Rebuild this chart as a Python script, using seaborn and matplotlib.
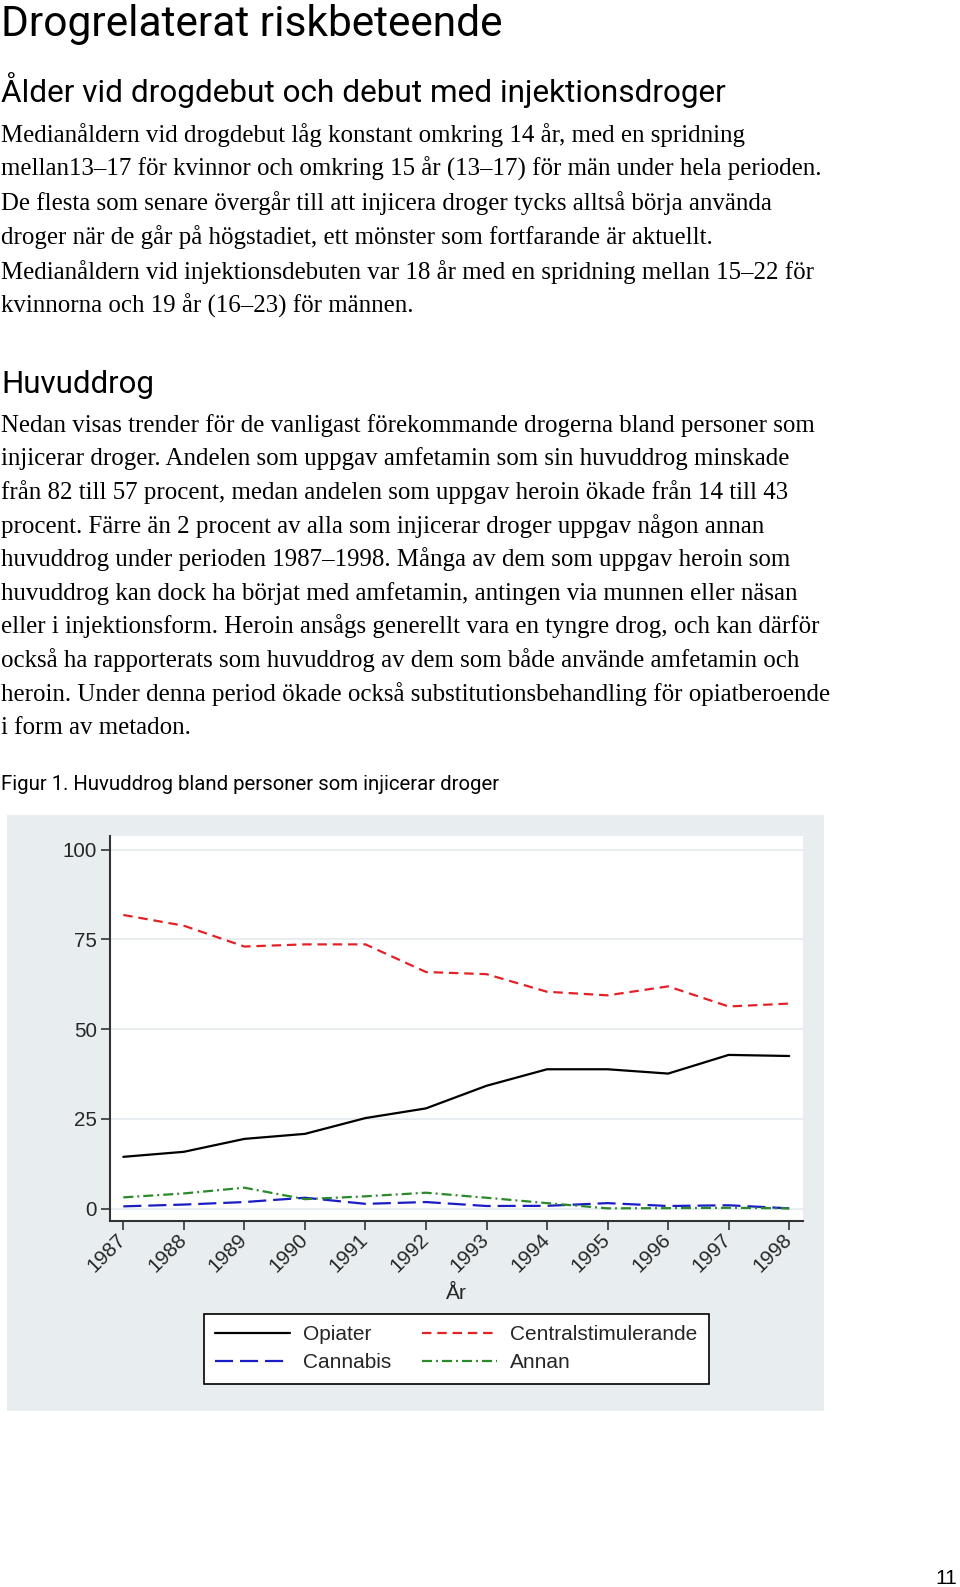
import matplotlib
matplotlib.use("Agg")
import numpy as np
import pandas as pd
import seaborn as sns
import matplotlib.pyplot as plt
from matplotlib.patches import Rectangle
from matplotlib.transforms import ScaledTranslation

# ---------------- data ----------------
years = [1987, 1988, 1989, 1990, 1991, 1992, 1993, 1994, 1995, 1996, 1997, 1998]
opiater = [14.4, 15.8, 19.4, 20.8, 25.2, 27.9, 34.2, 38.8, 38.8, 37.6, 42.8, 42.5]
centralstim = [81.8, 78.8, 73.0, 73.6, 73.6, 65.9, 65.3, 60.4, 59.4, 61.9, 56.3, 57.1]
cannabis = [0.6, 1.1, 1.8, 3.0, 1.3, 1.8, 0.7, 0.75, 1.5, 0.7, 0.9, 0.05]
annan = [3.1, 4.2, 5.8, 2.6, 3.4, 4.4, 3.0, 1.5, 0.05, 0.1, 0.2, 0.05]
series_names = ["Opiater", "Centralstimulerande", "Cannabis", "Annan"]
y_ticks = [0, 25, 50, 75, 100]

title = "Drogrelaterat riskbeteende"
heading1 = "Ålder vid drogdebut och debut med injektionsdroger"
para1 = [
    "Medianåldern vid drogdebut låg konstant omkring 14 år, med en spridning",
    "mellan13–17 för kvinnor och omkring 15 år (13–17) för män under hela perioden.",
    "De flesta som senare övergår till att injicera droger tycks alltså börja använda",
    "droger när de går på högstadiet, ett mönster som fortfarande är aktuellt.",
    "Medianåldern vid injektionsdebuten var 18 år med en spridning mellan 15–22 för",
    "kvinnorna och 19 år (16–23) för männen.",
]
heading2 = "Huvuddrog"
para2 = [
    "Nedan visas trender för de vanligast förekommande drogerna bland personer som",
    "injicerar droger. Andelen som uppgav amfetamin som sin huvuddrog minskade",
    "från 82 till 57 procent, medan andelen som uppgav heroin ökade från 14 till 43",
    "procent. Färre än 2 procent av alla som injicerar droger uppgav någon annan",
    "huvuddrog under perioden 1987–1998. Många av dem som uppgav heroin som",
    "huvuddrog kan dock ha börjat med amfetamin, antingen via munnen eller näsan",
    "eller i injektionsform. Heroin ansågs generellt vara en tyngre drog, och kan därför",
    "också ha rapporterats som huvuddrog av dem som både använde amfetamin och",
    "heroin. Under denna period ökade också substitutionsbehandling för opiatberoende",
    "i form av metadon.",
]
caption = "Figur 1. Huvuddrog bland personer som injicerar droger"
page_no = "11"

# ---------------- setup ----------------
sns.set_theme(style="white")
plt.rcParams["font.family"] = ["Liberation Sans", "DejaVu Sans"]
plt.rcParams["lines.scale_dashes"] = False

W, H = 960, 1587
fig = plt.figure(figsize=(W / 100, H / 100), dpi=100)
fig.patch.set_facecolor("white")
renderer = fig.canvas.get_renderer()


def fx(x):
    return x / W


def fy(y):
    return 1 - y / H


def put(text, x, y, size, family, target_w=None, **kw):
    t = fig.text(fx(x), fy(y), text, fontsize=size, family=family,
                 va="baseline", ha=kw.pop("ha", "left"), color="black", **kw)
    if target_w:
        w = t.get_window_extent(renderer).width
        t.set_fontsize(size * target_w / w)
    return t


# headings (Tahoma-like sans)
sans_head = ["Roboto", "DejaVu Sans"]
put(title, 1, 36, 30, sans_head, target_w=502)
put(heading1, 1, 101.7, 22, sans_head, target_w=725)
put(heading2, 1, 393.3, 20, sans_head, target_w=153)
put(caption, 1, 790, 15, sans_head, target_w=499)

# body text (Times-like serif)
serif = ["Liberation Serif", "DejaVu Serif"]
probe = fig.text(0, 0, para1[0], fontsize=14.5, family=serif)
body_fs = 14.5 * 740 / probe.get_window_extent(renderer).width
probe.remove()
for i, line in enumerate(para1):
    put(line, 1, 141.7 + 34.2 * i, body_fs, serif)
for i, line in enumerate(para2):
    put(line, 1, 431.7 + 33.6 * i, body_fs, serif)

put(page_no, 957, 1584, 15, ["Liberation Sans"], ha="right")

# chart background panel
fig.patches.append(Rectangle((fx(7), fy(1411)), (824 - 7) / W, (1411 - 815) / H,
                             transform=fig.transFigure, facecolor="#E8EEF0",
                             edgecolor="none", zorder=-5))

# ---------------- chart ----------------
ax = fig.add_axes([fx(110), fy(1221), (802.5 - 110) / W, (1221 - 836) / H])
ax.set_facecolor("white")

df = pd.DataFrame({
    "År": np.tile(years, 4),
    "Procent": np.concatenate([opiater, centralstim, cannabis, annan]),
    "Huvuddrog": np.repeat(series_names, len(years)),
})
palette = {"Opiater": "#000000", "Centralstimulerande": "#E32227",
           "Cannabis": "#1A1CC4", "Annan": "#2A8A2A"}
dashes = {"Opiater": "", "Centralstimulerande": (6.8, 4.2),
          "Cannabis": (13, 5), "Annan": (7.2, 2.9, 1.4, 2.9)}
sns.lineplot(data=df, x="År", y="Procent", hue="Huvuddrog", style="Huvuddrog",
             palette=palette, dashes=dashes, hue_order=series_names,
             style_order=series_names, linewidth=1.6, ax=ax)

ax.set_xlim(1986.78, 1998.22)
ax.set_ylim(-3.48, 103.8)
ax.set_xticks(years)
ax.set_xticklabels([str(y) for y in years], rotation=45, ha="right",
                   rotation_mode="anchor")
ax.set_yticks(y_ticks)
ax.set_yticklabels([str(v) for v in y_ticks])
ax.tick_params(axis="both", bottom=True, left=True, length=6.3, width=1.2,
               color="#333333", labelsize=14.8, direction="out")
ax.tick_params(axis="x", pad=1)
ax.tick_params(axis="y", pad=3)
shift = ScaledTranslation(-7 / 100, 1 / 100, fig.dpi_scale_trans)
for lab in ax.get_xticklabels():
    lab.set_transform(lab.get_transform() + shift)
ax.yaxis.grid(True, color="#E4EAEC", linewidth=1.2)
ax.xaxis.grid(False)
ax.set_axisbelow(True)
for s in ["top", "right"]:
    ax.spines[s].set_visible(False)
for s in ["left", "bottom"]:
    ax.spines[s].set_color("#333333")
    ax.spines[s].set_linewidth(1.5)
ax.set_ylabel("")
ax.set_xlabel("År", fontsize=15, labelpad=6)

handles, labels = ax.get_legend_handles_labels()
hmap = dict(zip(labels, handles))
order = ["Opiater", "Cannabis", "Centralstimulerande", "Annan"]
leg = ax.legend([hmap[k] for k in order], order, ncol=2, loc="upper left",
                bbox_to_anchor=(fx(203.5), fy(1314)), bbox_transform=fig.transFigure,
                borderaxespad=0, fontsize=15.0, handlelength=3.6,
                handletextpad=0.62, columnspacing=1.5, labelspacing=0.42,
                borderpad=0.55, frameon=True, fancybox=False, framealpha=1,
                edgecolor="black")
leg.get_frame().set_linewidth(1.2)

fig.savefig("out.png", dpi=100, facecolor="white")
